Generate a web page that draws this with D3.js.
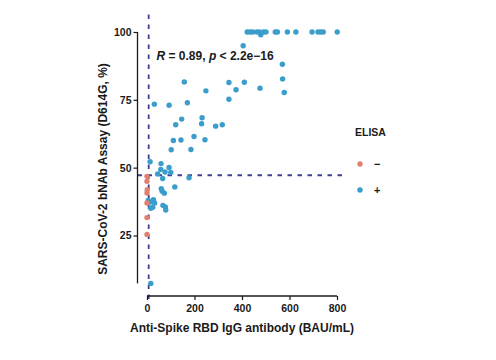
<!DOCTYPE html>
<html><head><meta charset="utf-8">
<script src="https://cdn.jsdelivr.net/npm/d3@7"></script>
<style>body{margin:0;background:#fff}text{font-family:"Liberation Sans",Arial,sans-serif}</style>
</head><body><svg id="c" width="496" height="360"></svg>
<script>
// ELISA "+" group (blue)
const posX = [422,434,445,462,473,479,490,501,540,549,591,627,695,720,731,742,801,
  405,570,571,578,410,345,375,476,248,345,157,31,93,170,232,230,289,317,146,121,
  244,198,143,111,102,185,13,59,93,58,76,100,45,66,177,60,64,73,117,27,32,13,24,16,67,77,79,16,5];
const posY = [100,100,100,100,100,99,100,100,100,100,100,100,100,100,100,100,100,
  94.9,88.1,82.7,77.7,81.5,81.4,78.7,79.3,78.3,75.2,81.6,73.4,73.0,73.9,68.4,66.2,65.3,65.8,67.9,65.8,
  60.3,61.5,60.2,60.0,56.6,56.7,52.2,51.5,50.1,49.3,48.4,48.2,47.7,46.0,46.3,42.2,41.3,40.6,42.9,38.2,37.0,37.3,35.4,35.0,36.1,35.5,34.4,7.35,37.9];
// ELISA "−" group (red)
const negX = [0,0,1,0,0,0,0];
const negY = [46.8,45.0,41.9,40.7,37.0,31.6,25.4];
const xTicks = [0,200,400,600,800];
const yTicks = [25,50,75,100];
const xCut = 7.1, yCut = 47.2;
const groups = ["−","+"];
const colors = ["#E0806E","#3A9DCB"];

const svg = d3.select("#c");
const x = d3.scaleLinear().domain([-40,840]).range([137.5,346.5]);
const y = d3.scaleLinear().domain([2.7,104.6]).range([296,19.5]);
const ink = "#1a1a1a";

// dashed reference lines
svg.append("line").attr("x1",x(xCut)).attr("x2",x(xCut)).attr("y1",y.range()[1]-5).attr("y2",y.range()[0]+3)
  .attr("stroke","#3B3F96").attr("stroke-width",1.8).attr("stroke-dasharray","4.5,5.5");
svg.append("line").attr("x1",x.range()[0]).attr("x2",x.range()[1]).attr("y1",y(yCut)).attr("y2",y(yCut))
  .attr("stroke","#3B3F96").attr("stroke-width",1.8).attr("stroke-dasharray","4.5,5.5");

// points
const pts = posX.map((v,i)=>({x:v,y:posY[i],g:1})).concat(negX.map((v,i)=>({x:v,y:negY[i],g:0})));
svg.append("g").selectAll("circle").data(pts).join("circle")
  .attr("cx",d=>x(d.x)).attr("cy",d=>y(d.y)).attr("r",2.7).attr("fill",d=>colors[d.g]);

// axes (lines capped to data range)
const allY = posY.concat(negY);
const yAxis = svg.append("g").attr("transform",`translate(${x.range()[0]},0)`)
  .call(d3.axisLeft(y).tickValues(yTicks).tickSize(4).tickPadding(2));
yAxis.select(".domain").remove();
yAxis.append("line").attr("x1",0).attr("x2",0).attr("y1",y(d3.min(allY))).attr("y2",y(d3.max(allY))).attr("stroke",ink).attr("stroke-width",1.3);
const xAxis = svg.append("g").attr("transform",`translate(0,${y.range()[0]})`)
  .call(d3.axisBottom(x).tickValues(xTicks).tickSize(4).tickPadding(5));
xAxis.select(".domain").remove();
xAxis.append("line").attr("x1",x(xTicks[0])).attr("x2",x(xTicks[xTicks.length-1])).attr("y1",0).attr("y2",0).attr("stroke",ink).attr("stroke-width",1.3);
[xAxis,yAxis].forEach(a=>{
  a.selectAll(".tick line").attr("stroke",ink).attr("stroke-width",1.2);
  a.selectAll(".tick text").attr("fill",ink).style("font-size","10.5px").style("font-weight","bold")
   .style("font-family","'Liberation Sans',Arial,sans-serif");
});

// axis titles
svg.append("text").attr("x",242).attr("y",332).attr("text-anchor","middle")
  .style("font-size","12px").style("font-weight","bold").attr("fill",ink)
  .text("Anti-Spike RBD IgG antibody (BAU/mL)");
svg.append("text").attr("transform","translate(107,169) rotate(-90)").attr("text-anchor","middle")
  .style("font-size","12px").style("font-weight","bold").attr("fill",ink)
  .text("SARS-CoV-2 bNAb Assay (D614G, %)");

// correlation annotation
const ann = svg.append("text").attr("x",156.5).attr("y",59.5).style("font-size","12px").style("font-weight","bold").attr("fill",ink);
ann.append("tspan").style("font-style","italic").text("R");
ann.append("tspan").text(" = 0.89, ");
ann.append("tspan").style("font-style","italic").text("p");
ann.append("tspan").text(" < 2.2e\u221216");

// legend
svg.append("text").attr("x",355).attr("y",135.5).style("font-size","10.5px").style("font-weight","bold").attr("fill",ink).text("ELISA");
groups.forEach((g,i)=>{
  const cy = 164 + i*26;
  svg.append("circle").attr("cx",360).attr("cy",cy).attr("r",2.7).attr("fill",colors[i]);
  svg.append("text").attr("x",374).attr("y",cy+4).style("font-size","11px").style("font-weight","bold").attr("fill",ink).text(g);
});
</script></body></html>
